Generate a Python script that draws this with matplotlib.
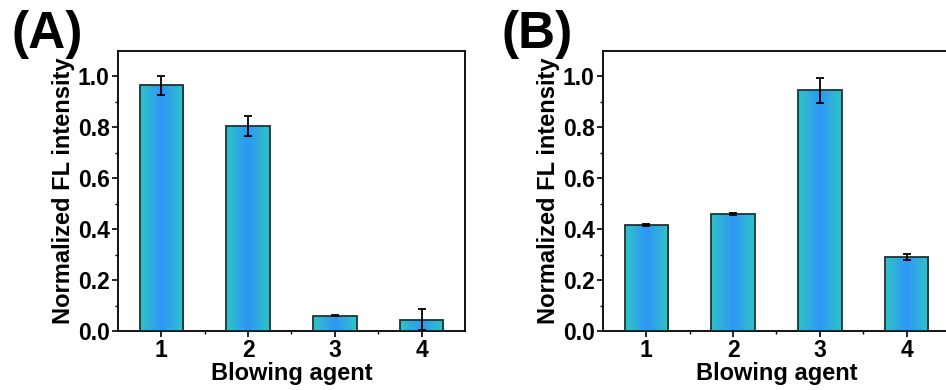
import numpy as np
import matplotlib
matplotlib.use("Agg")
import matplotlib.pyplot as plt
from matplotlib.colors import LinearSegmentedColormap
from matplotlib import font_manager

plt.rcParams['font.family'] = ['Liberation Sans', 'DejaVu Sans']
plt.rcParams['font.weight'] = 'bold'

agents = ['1', '2', '3', '4']
vals_a = [0.965, 0.805, 0.060, 0.045]
err_a = [0.037, 0.040, 0.002, 0.040]
vals_b = [0.418, 0.458, 0.945, 0.290]
err_b = [0.004, 0.004, 0.050, 0.012]

grad = LinearSegmentedColormap.from_list('g', ['#2ec3c6', '#2f96f7', '#2ec3c6'])

names = {f.name for f in font_manager.fontManager.ttflist}
tag_font = 'Liberation Sans Narrow' if 'Liberation Sans Narrow' in names else 'Liberation Sans'


def panel(ax, vals, errs):
    x = np.arange(1, len(vals) + 1)
    bars = ax.bar(x, vals, width=0.5, color='none', edgecolor='#1d3535',
                  linewidth=1.3, zorder=3)
    img = np.linspace(0, 1, 64).reshape(1, -1)
    for b in bars:
        x0, y0 = b.get_x(), b.get_y()
        im = ax.imshow(img, cmap=grad, aspect='auto', zorder=2,
                       extent=[x0, x0 + b.get_width(), y0, y0 + b.get_height()])
        im.set_clip_path(b)
    ax.errorbar(x, vals, yerr=errs, fmt='none', ecolor='black', elinewidth=1.3,
                capsize=3, capthick=1.3, zorder=4)
    ax.set_xlim(0.5, 4.5)
    ax.set_ylim(0, 1.1)
    ax.set_xticks(x)
    ax.set_xticklabels(agents)
    ax.set_xticks([1.5, 2.5, 3.5], minor=True)
    ax.set_yticks([0, 0.2, 0.4, 0.6, 0.8, 1.0])
    ax.set_yticks(np.arange(0.1, 1.1, 0.2), minor=True)
    ax.yaxis.set_major_formatter(plt.FormatStrFormatter('%.1f'))
    ax.tick_params(which='major', direction='out', length=4, width=1.2,
                   labelsize=16.5, pad=2, top=False, right=False)
    ax.tick_params(which='minor', direction='out', length=2.5, width=1.0,
                   top=False, right=False)
    for s in ax.spines.values():
        s.set_linewidth(1.3)
    ax.set_xlabel('Blowing agent', fontsize=17, fontweight='bold', labelpad=0)
    ax.set_ylabel('Normalized FL intensity', fontsize=17, fontweight='bold',
                  labelpad=2)


fig = plt.figure(figsize=(9.46, 3.9), dpi=100)
ax1 = fig.add_axes([0.1247, 0.1513, 0.3668, 0.718])
ax2 = fig.add_axes([0.6374, 0.1513, 0.3668, 0.718])
panel(ax1, vals_a, err_a)
panel(ax2, vals_b, err_b)

fig.text(0.012, 0.975, '(A)', fontsize=37, fontweight='bold', va='top',
         ha='left', family=tag_font)
fig.text(0.530, 0.975, '(B)', fontsize=37, fontweight='bold', va='top',
         ha='left', family=tag_font)

fig.savefig('out.png', dpi=100)
